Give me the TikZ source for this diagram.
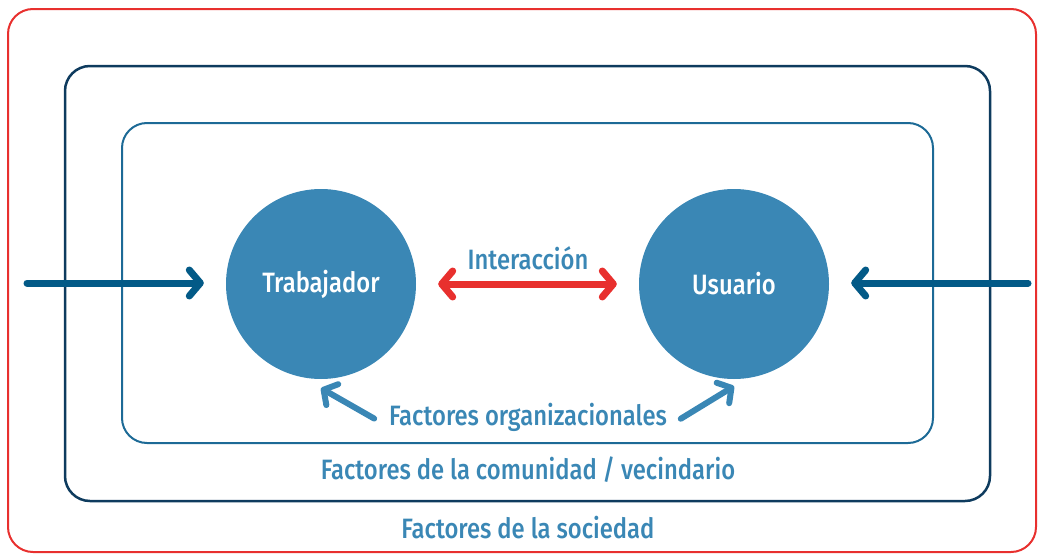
\documentclass[tikz,border=0pt]{standalone}
\usepackage{fontspec}
\IfFontExistsTF{Fira Sans Medium}
  {\setmainfont[FakeStretch=0.85]{Fira Sans Medium}}
  {\setmainfont[FakeStretch=0.85,FakeBold=0.6]{Fira Sans}}
\usetikzlibrary{arrows.meta}
\definecolor{sociedadred}{HTML}{E8302E}
\definecolor{comunidadnavy}{HTML}{0E3B5E}
\definecolor{orgblue}{HTML}{1D6A96}
\definecolor{circblue}{HTML}{3A87B5}
\definecolor{arrownavy}{HTML}{035A87}
\begin{document}
\begin{tikzpicture}[x=1pt,y=-1pt]
\tikzstyle{frame} = [rounded corners=25pt, line width=2pt] % marcos redondeados
\tikzstyle{actor} = [circle, fill=circblue, minimum size=190pt, inner sep=0pt, text=white, font=\fontsize{28}{32}\selectfont] % circulos
\tikzstyle{lbl} = [text=circblue, font=\fontsize{28}{32}\selectfont] % etiquetas
\tikzstyle{flecha} = [line width=7pt, line cap=round, -{Straight Barb[length=11pt, width=26pt, line cap=round, line join=round]}]
\tikzstyle{flechaorg} = [line width=6pt, line cap=round, color=circblue, -{Straight Barb[length=10pt, width=24pt, line cap=round, line join=round]}]

\useasboundingbox (0,0) rectangle (1038,554);
\draw[frame, sociedadred] (8,9) rectangle (1036,552);
\draw[frame, comunidadnavy, line width=2.5pt] (65,66) rectangle (990,501);
\draw[frame, orgblue] (122,123) rectangle (933,443);

\node[actor] (trab) at (321,284) {Trabajador};
\node[actor] (usr) at (734,284) {Usuario};

\node[lbl] (inter) at (528,258) {Interacción};
\node[lbl] (org) at (528,417) {Factores organizacionales};
\node[lbl] (com) at (528,470) {Factores de la comunidad / vecindario};
\node[lbl] (soc) at (528,528) {Factores de la sociedad};

\coordinate (izq) at (27,283);
\coordinate (der) at (1028,283);

\draw[flecha, arrownavy, shorten >=22pt] (izq) -- (izq -| trab.west);
\draw[flecha, arrownavy, shorten >=22pt] (der) -- (der -| usr.east);
\draw[flecha, sociedadred, {Straight Barb[length=11pt, width=26pt, line cap=round, line join=round]}-{Straight Barb[length=11pt, width=26pt, line cap=round, line join=round]}, shorten >=22pt, shorten <=22pt] (trab.east) -- (usr.west);

\draw[flechaorg, shorten <=13pt] ([yshift=-8pt]org.west) -- ([yshift=-9pt]trab.south);
\draw[flechaorg, shorten <=12pt] ([yshift=-8pt]org.east) -- ([yshift=-7pt]usr.south);
\end{tikzpicture}
\end{document}
